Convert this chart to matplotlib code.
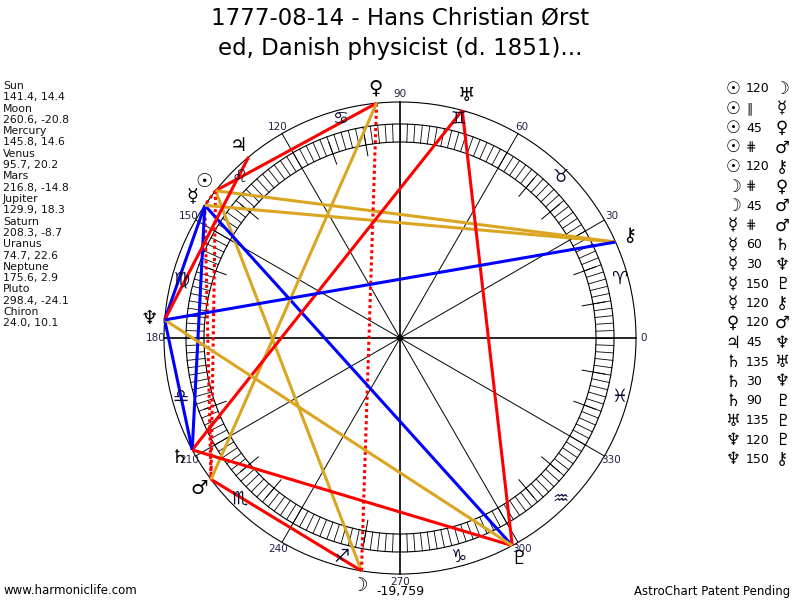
import numpy as np
import matplotlib
matplotlib.use('Agg')
import matplotlib.pyplot as plt
from matplotlib.patches import Circle

# ---- data ----
planet_names = ['Sun', 'Moon', 'Mercury', 'Venus', 'Mars', 'Jupiter',
                'Saturn', 'Uranus', 'Neptune', 'Pluto', 'Chiron']
planet_glyphs = ['\u2609', '\u263d', '\u263f', '\u2640', '\u2642', '\u2643',
                 '\u2644', '\u2645', '\u2646', '\u2647', '\u26b7']
longitudes = [141.4, 260.6, 145.8, 95.7, 216.8, 129.9, 208.3, 74.7, 175.6, 298.4, 24.0]
declinations = [14.4, -20.8, 14.6, 20.2, -14.8, 18.3, -8.7, 22.6, 2.9, -24.1, 10.1]

sign_glyphs = ['\u2648', '\u2649', '\u264a', '\u264b', '\u264c', '\u264d',
               '\u264e', '\u264f', '\u2650', '\u2651', '\u2652', '\u2653']
degree_labels = [0, 30, 60, 90, 120, 150, 180, 210, 240, 270, 300, 330]
house_cusps = [10, 20, 40, 50, 100, 110, 140, 160, 200, 220, 230, 260, 310, 320, 340, 350]

# aspects: (planet, aspect, planet)
aspect_p1 = ['Sun', 'Sun', 'Sun', 'Sun', 'Sun', 'Moon', 'Moon', 'Mercury', 'Mercury', 'Mercury',
             'Mercury', 'Mercury', 'Venus', 'Jupiter', 'Saturn', 'Saturn', 'Saturn', 'Uranus',
             'Neptune', 'Neptune']
aspect_kind = ['120', 'par', '45', 'cpar', '120', 'cpar', '45', 'cpar', '60', '30',
               '150', '120', '120', '45', '135', '30', '90', '135', '120', '150']
aspect_p2 = ['Moon', 'Mercury', 'Venus', 'Mars', 'Chiron', 'Venus', 'Mars', 'Mars', 'Saturn', 'Neptune',
             'Pluto', 'Chiron', 'Mars', 'Neptune', 'Uranus', 'Neptune', 'Pluto', 'Pluto',
             'Pluto', 'Chiron']

kind_text = {'par': '\u2225', 'cpar': '\u22d5'}
kind_color = {'120': '#daa520', '30': '#0000ff', '60': '#0000ff', '150': '#0000ff',
              '45': '#ff0000', '90': '#ff0000', '135': '#ff0000',
              'par': '#ff0000', 'cpar': '#ff0000'}

CX, CY = 400, 338
R_OUT = 236
R_RING_IN, R_RING_OUT = 196, 214


def xy(deg, r):
    a = np.radians(deg)
    return CX + r * np.cos(a), CY - r * np.sin(a)


fig = plt.figure(figsize=(8, 6), dpi=100)
ax = fig.add_axes([0, 0, 1, 1])
ax.set_xlim(0, 800)
ax.set_ylim(600, 0)
ax.axis('off')

# wheel
for r in (R_OUT, R_RING_IN, R_RING_OUT):
    ax.add_patch(Circle((CX, CY), r, fill=False, lw=0.8, ec='black'))
for d in np.arange(0, 360, 2):
    x0, y0 = xy(d, R_RING_IN)
    x1, y1 = xy(d, R_RING_OUT)
    ax.plot([x0, x1], [y0, y1], color='black', lw=0.6)
for d in degree_labels:
    x1, y1 = xy(d, R_OUT)
    ax.plot([CX, x1], [CY, y1], color='black', lw=1.2 if d % 90 == 0 else 0.7)
    lx, ly = xy(d, 244)
    ax.text(lx, ly, str(d), fontsize=7.5, ha='center', va='center', color='#222244')
for d in house_cusps:
    x0, y0 = xy(d, 185)
    x1, y1 = xy(d, 208)
    ax.plot([x0, x1], [y0, y1], color='black', lw=0.7)
ax.add_patch(Circle((CX, CY), 2.5, color='black'))

for i, g in enumerate(sign_glyphs):
    sx, sy = xy(15 + 30 * i, 227)
    ax.text(sx, sy, g, fontsize=13, ha='center', va='center', color='#0a0a33')

# aspect lines
for p1, k, p2 in zip(aspect_p1, aspect_kind, aspect_p2):
    i1 = planet_names.index(p1)
    i2 = planet_names.index(p2)
    x0, y0 = xy(longitudes[i1], R_OUT)
    x1, y1 = xy(longitudes[i2], R_OUT)
    ls = (0, (1, 1)) if k in ('par', 'cpar') else '-'
    ax.plot([x0, x1], [y0, y1], color=kind_color[k], lw=2.2, ls=ls, solid_capstyle='butt')

# planet glyphs
for g, lon in zip(planet_glyphs, longitudes):
    gx, gy = xy(lon, 251)
    ax.text(gx, gy, g, fontsize=14, ha='center', va='center', color='black')

# left list
for i, (n, lon, dec) in enumerate(zip(planet_names, longitudes, declinations)):
    y = 86 + i * 22.6
    ax.text(3, y, n, fontsize=7.8, ha='left', va='center', color='#111111')
    ax.text(3, y + 11.3, f'{lon:.1f}, {dec:.1f}', fontsize=7.8, ha='left', va='center', color='#111111')

# right list
for i, (p1, k, p2) in enumerate(zip(aspect_p1, aspect_kind, aspect_p2)):
    y = 89 + i * 19.5
    g1 = planet_glyphs[planet_names.index(p1)]
    g2 = planet_glyphs[planet_names.index(p2)]
    ax.text(733, y, g1, fontsize=12, ha='center', va='center')
    ax.text(746, y, kind_text.get(k, k), fontsize=9, ha='left', va='center')
    ax.text(782, y, g2, fontsize=12, ha='center', va='center')

ax.text(400, 18, '1777-08-14 - Hans Christian \u00d8rst', fontsize=16.5, ha='center', va='center')
ax.text(400, 48, 'ed, Danish physicist (d. 1851)...', fontsize=16.5, ha='center', va='center')
ax.text(400, 592, '-19,759', fontsize=9, ha='center', va='center')
ax.text(3, 591, 'www.harmoniclife.com', fontsize=8.5, ha='left', va='center')
ax.text(790, 591, 'AstroChart Patent Pending', fontsize=8.5, ha='right', va='center')

fig.savefig('out.png', dpi=100)
